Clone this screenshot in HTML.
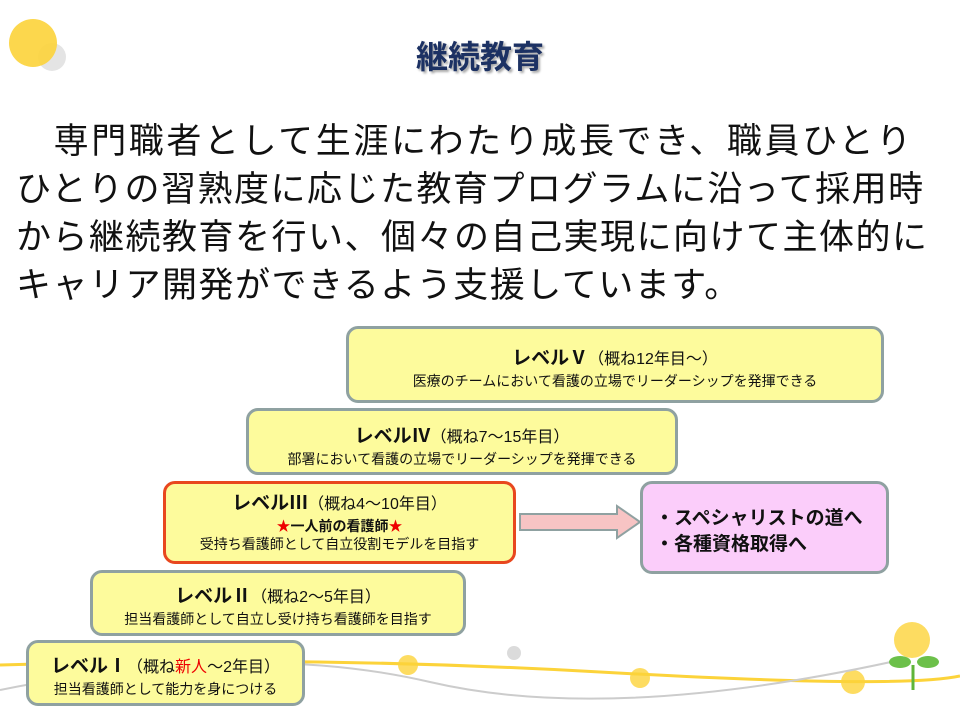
<!DOCTYPE html>
<html><head><meta charset="utf-8"><style>
body{margin:0;width:960px;height:720px;background:#fff;position:relative;overflow:hidden;font-family:"Liberation Sans","Noto Sans CJK JP",sans-serif}
.t{position:absolute;left:0;width:960px;top:32px;text-align:center;font-size:32px;font-weight:bold;color:#1c3163;text-shadow:2px 2px 2px #aaa}
.p{position:absolute;left:16px;top:118px;width:940px;font-size:35px;line-height:48px;color:#111;white-space:nowrap;letter-spacing:1.5px}
.p .a{letter-spacing:2.6px}
.b{position:absolute;box-sizing:border-box;background:#fdfb9c;border:3px solid #8fa1a1;border-radius:12px;text-align:center;color:#111}
.h{font-size:19px;font-weight:bold;line-height:24px}
.h span{font-weight:normal;font-size:16px}
.s{font-size:14px;line-height:18px}
</style></head><body>
<svg style="position:absolute;left:0;top:0" width="960" height="720">
<circle cx="52" cy="57" r="14" fill="#ddd" opacity=".8"/>
<circle cx="33" cy="43" r="24" fill="#fcd33a" opacity=".9"/>
<circle cx="912" cy="640" r="18" fill="#fcd33a" opacity=".8"/>
<circle cx="280" cy="665" r="14" fill="#fcd33a" opacity=".8"/>
<circle cx="408" cy="665" r="10" fill="#fcd33a" opacity=".8"/>
<circle cx="514" cy="653" r="7" fill="#ccc" opacity=".7"/>
<circle cx="640" cy="678" r="10" fill="#fcd33a" opacity=".8"/>
<circle cx="853" cy="682" r="12" fill="#fcd33a" opacity=".8"/>
<path d="M0 665 Q300 655 600 672 T960 676" stroke="#fcd33a" stroke-width="3" fill="none"/>
<path d="M0 690 Q250 640 430 682 T900 660" stroke="#ccc" stroke-width="2" fill="none"/>
<path d="M913 690 V665" stroke="#5fb53a" stroke-width="3"/>
<ellipse cx="900" cy="662" rx="11" ry="6" fill="#6cc04a"/><ellipse cx="928" cy="662" rx="11" ry="6" fill="#6cc04a"/>
<path d="M520 514 H617 V506 L640 522 L617 538 V530 H520 Z" fill="#f7c4c4" stroke="#8fa1a1" stroke-width="2"/>
</svg>
<div class="t">継続教育</div>
<div class="p"><span class="a">　専門職者として生涯にわたり成長でき、職員ひとり</span><br>ひとりの習熟度に応じた教育プログラムに沿って採用時<br>から継続教育を行い、個々の自己実現に向けて主体的に<br>キャリア開発ができるよう支援しています。</div>
<div class="b" style="left:346px;top:326px;width:538px;height:77px;padding-top:18px"><div class="h">レベルⅤ<span>（概ね12年目～）</span></div><div class="s">医療のチームにおいて看護の立場でリーダーシップを発揮できる</div></div>
<div class="b" style="left:246px;top:408px;width:432px;height:67px;padding-top:14px"><div class="h">レベルⅣ<span>（概ね7～15年目）</span></div><div class="s">部署において看護の立場でリーダーシップを発揮できる</div></div>
<div class="b" style="left:163px;top:481px;width:353px;height:83px;padding-top:8px;border-color:#e8471e"><div class="h">レベルⅢ<span>（概ね4～10年目）</span></div><div class="s" style="font-weight:bold"><span style="color:#e00">★</span>一人前の看護師<span style="color:#e00">★</span></div><div class="s">受持ち看護師として自立役割モデルを目指す</div></div>
<div class="b" style="left:90px;top:570px;width:376px;height:66px;padding-top:12px"><div class="h">レベルⅡ<span>（概ね2～5年目）</span></div><div class="s">担当看護師として自立し受け持ち看護師を目指す</div></div>
<div class="b" style="left:26px;top:640px;width:279px;height:66px;padding-top:12px"><div class="h">レベルⅠ<span>（概ね<span style="color:#e00;font-weight:normal;font-size:16px">新人</span>～2年目）</span></div><div class="s">担当看護師として能力を身につける</div></div>
<div class="b" style="left:640px;top:481px;width:249px;height:93px;background:#fbcdfa;text-align:left;padding:22px 0 0 12px;font-size:19px;font-weight:bold;line-height:26px">・スペシャリストの道へ<br>・各種資格取得へ</div>
</body></html>
